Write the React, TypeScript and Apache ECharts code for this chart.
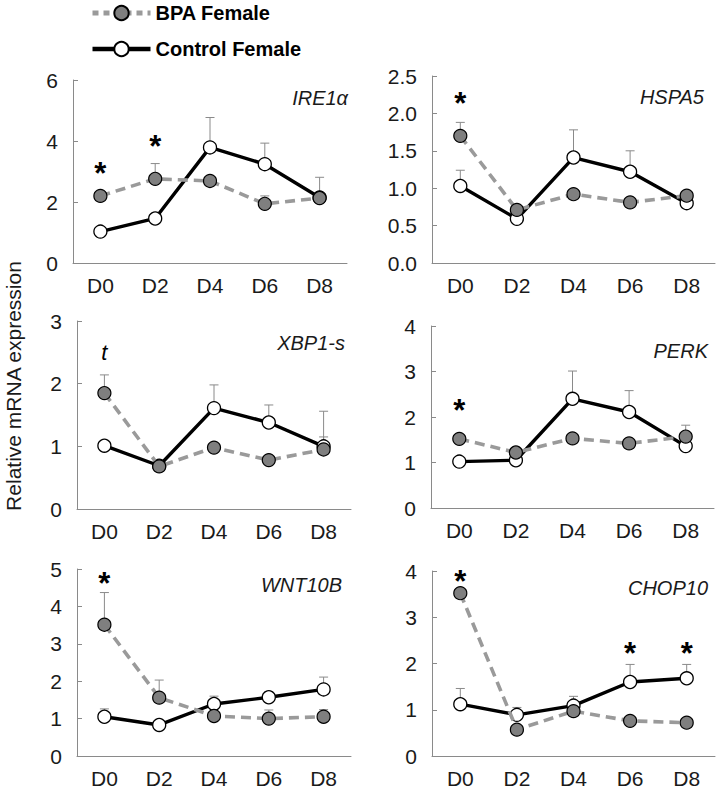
import React, { useEffect, useRef } from "react";
import * as echarts from "echarts";

const days = ["D0", "D2", "D4", "D6", "D8"];
const seriesNames = ["BPA Female", "Control Female"];
const genes = ["IRE1α", "HSPA5", "XBP1-s", "PERK", "WNT10B", "CHOP10"];

// mean values
const ire1Bpa = [2.2, 2.76, 2.69, 1.94, 2.13];
const ire1Ctrl = [1.03, 1.46, 3.79, 3.24, 2.15];
const hspa5Bpa = [1.7, 0.71, 0.92, 0.81, 0.9];
const hspa5Ctrl = [1.03, 0.59, 1.41, 1.22, 0.8];
const xbp1Bpa = [1.85, 0.68, 0.98, 0.78, 0.95];
const xbp1Ctrl = [1.01, 0.69, 1.61, 1.38, 1.0];
const perkBpa = [1.52, 1.22, 1.53, 1.42, 1.57];
const perkCtrl = [1.02, 1.05, 2.4, 2.11, 1.36];
const wntBpa = [3.51, 1.56, 1.07, 1.0, 1.05];
const wntCtrl = [1.05, 0.83, 1.39, 1.57, 1.78];
const chopBpa = [3.52, 0.57, 0.97, 0.76, 0.72];
const chopCtrl = [1.12, 0.89, 1.09, 1.6, 1.68];

// top of error bars (mean + SEM); null = not visible
const ire1BpaTop = [null, 3.26, null, 2.2, null];
const ire1CtrlTop = [null, null, 4.77, 3.93, 2.81];
const hspa5BpaTop = [1.88, null, null, null, null];
const hspa5CtrlTop = [1.24, null, 1.78, 1.5, null];
const xbp1BpaTop = [2.14, null, null, null, 1.15];
const xbp1CtrlTop = [null, null, 1.98, 1.66, 1.56];
const perkBpaTop = [null, null, null, null, 1.82];
const perkCtrlTop = [null, null, 3.01, 2.58, null];
const wntBpaTop = [4.37, 2.03, 1.12, 1.23, 1.24];
const wntCtrlTop = [1.26, null, 1.6, 1.72, 2.11];
const chopBpaTop = [null, null, null, null, null];
const chopCtrlTop = [1.46, 1.05, 1.29, 1.98, 1.98];

// significance marks: [dayIndex, level, text]
const ire1Marks = [[0, 3.16, "*"], [1, 4.04, "*"]];
const hspa5Marks = [[0, 2.22, "*"]];
const xbp1Marks = [[0, 2.5, "t"]];
const perkMarks = [[0, 2.3, "*"]];
const wntMarks = [[0, 4.81, "*"]];
const chopMarks = [[0, 3.93, "*"], [3, 2.37, "*"], [4, 2.37, "*"]];

// y axis ranges
const yMax = [6, 2.5, 3, 4, 5, 4];
const yInterval = [2, 0.5, 1, 1, 1, 1];
const yDecimals = [0, 1, 0, 0, 0, 0];

const bpaData = [ire1Bpa, hspa5Bpa, xbp1Bpa, perkBpa, wntBpa, chopBpa];
const ctrlData = [ire1Ctrl, hspa5Ctrl, xbp1Ctrl, perkCtrl, wntCtrl, chopCtrl];
const bpaTops = [ire1BpaTop, hspa5BpaTop, xbp1BpaTop, perkBpaTop, wntBpaTop, chopBpaTop];
const ctrlTops = [ire1CtrlTop, hspa5CtrlTop, xbp1CtrlTop, perkCtrlTop, wntCtrlTop, chopCtrlTop];
const marks = [ire1Marks, hspa5Marks, xbp1Marks, perkMarks, wntMarks, chopMarks];

// layout
const grids = [
  { left: 73, top: 80, width: 274, height: 183 },
  { left: 432, top: 76, width: 283, height: 187 },
  { left: 77, top: 321, width: 274, height: 188 },
  { left: 431, top: 326, width: 283, height: 182 },
  { left: 77, top: 569, width: 274, height: 188 },
  { left: 432, top: 571, width: 283, height: 187 },
];
const geneLabelPos = [
  [348, 98],
  [704, 97],
  [345, 343],
  [708, 351],
  [342, 585],
  [708, 588],
];

const FONT = "'Liberation Sans', Arial, Helvetica, sans-serif";
const AXIS_COLOR = "#8a8a8a";

function errorSeries(gi: number, means: number[], tops: (number | null)[]) {
  const data: number[][] = [];
  means.forEach((m, i) => {
    const t = tops[i];
    if (t !== null && t !== undefined) data.push([i, m, t]);
  });
  return {
    type: "custom",
    xAxisIndex: gi,
    yAxisIndex: gi,
    z: 2,
    silent: true,
    data,
    encode: { x: 0, y: [1, 2] },
    renderItem: (params: any, api: any) => {
      const x = api.value(0);
      const p0 = api.coord([x, api.value(1)]);
      const p1 = api.coord([x, api.value(2)]);
      return {
        type: "group",
        children: [
          {
            type: "line",
            shape: { x1: p0[0], y1: p0[1], x2: p1[0], y2: p1[1] },
            style: { stroke: AXIS_COLOR, lineWidth: 1 },
          },
          {
            type: "line",
            shape: { x1: p1[0] - 4.5, y1: p1[1], x2: p1[0] + 4.5, y2: p1[1] },
            style: { stroke: AXIS_COLOR, lineWidth: 1 },
          },
        ],
      };
    },
  };
}

function buildOption() {
  const grid: any[] = [];
  const xAxis: any[] = [];
  const yAxis: any[] = [];
  const series: any[] = [];
  const graphic: any[] = [];

  genes.forEach((gene, gi) => {
    grid.push({ ...grids[gi], containLabel: false });
    xAxis.push({
      type: "category",
      gridIndex: gi,
      data: days,
      boundaryGap: true,
      axisLine: { lineStyle: { color: AXIS_COLOR, width: 1 } },
      axisTick: { inside: true, length: 6, interval: 0, lineStyle: { color: AXIS_COLOR } },
      axisLabel: { fontFamily: FONT, fontSize: 21, color: "#1a1a1a", margin: 12, interval: 0 },
      splitLine: { show: false },
    });
    yAxis.push({
      type: "value",
      gridIndex: gi,
      min: 0,
      max: yMax[gi],
      interval: yInterval[gi],
      axisLine: { show: true, lineStyle: { color: AXIS_COLOR, width: 1 } },
      axisTick: { show: true, inside: true, length: 5, lineStyle: { color: AXIS_COLOR } },
      axisLabel: {
        fontFamily: FONT,
        fontSize: 21,
        color: "#1a1a1a",
        margin: 15,
        formatter: (v: number) => v.toFixed(yDecimals[gi]),
      },
      splitLine: { show: false },
    });

    series.push(errorSeries(gi, ctrlData[gi], ctrlTops[gi]));
    series.push(errorSeries(gi, bpaData[gi], bpaTops[gi]));

    series.push({
      type: "line",
      name: seriesNames[1],
      xAxisIndex: gi,
      yAxisIndex: gi,
      z: 3,
      data: ctrlData[gi],
      symbol: "circle",
      symbolSize: 13,
      showAllSymbol: true,
      lineStyle: { color: "#000", width: 3.4, type: "solid" },
      itemStyle: { color: "#ffffff", borderColor: "#000", borderWidth: 1.3 },
      emphasis: { disabled: true },
    });
    series.push({
      type: "line",
      name: seriesNames[0],
      xAxisIndex: gi,
      yAxisIndex: gi,
      z: 4,
      data: bpaData[gi],
      symbol: "circle",
      symbolSize: 13,
      showAllSymbol: true,
      lineStyle: { color: "#9a9a9a", width: 3.6, type: [10, 6] },
      itemStyle: { color: "#7f7f7f", borderColor: "#000", borderWidth: 1.2 },
      emphasis: { disabled: true },
    });

    series.push({
      type: "scatter",
      xAxisIndex: gi,
      yAxisIndex: gi,
      z: 5,
      silent: true,
      symbolSize: 1,
      itemStyle: { color: "rgba(255,255,255,0)" },
      data: marks[gi].map((m: any) => {
        const isT = m[2] === "t";
        return {
          value: [m[0], m[1]],
          name: m[2],
          label: isT
            ? { fontSize: 22, fontStyle: "italic", fontWeight: "normal", offset: [0, 0] }
            : { fontSize: 31, fontWeight: "bold", offset: [0, 7] },
        };
      }),
      label: {
        show: true,
        position: "inside",
        formatter: (p: any) => p.name,
        fontFamily: FONT,
        color: "#000",
        opacity: 1,
        textBorderWidth: 0,
      },
    });

    graphic.push({
      type: "text",
      x: geneLabelPos[gi][0],
      y: geneLabelPos[gi][1],
      style: {
        text: gene,
        font: `italic 20px ${FONT}`,
        fill: "#1a1a1a",
        align: "right",
        verticalAlign: "middle",
      },
    });
  });

  graphic.push({
    type: "text",
    x: 13,
    y: 386,
    rotation: Math.PI / 2,
    style: {
      text: "Relative mRNA expression",
      font: `21px ${FONT}`,
      fill: "#1a1a1a",
      align: "center",
      verticalAlign: "middle",
    },
  });

  return {
    animation: false,
    backgroundColor: "#ffffff",
    legend: {
      data: [
        {
          name: seriesNames[0],
          lineStyle: { color: "#9a9a9a", width: 5, type: [6, 5] },
        },
        {
          name: seriesNames[1],
          lineStyle: { color: "#000", width: 4.5, type: "solid" },
        },
      ],
      orient: "vertical",
      left: 85,
      top: -2,
      itemWidth: 58,
      itemHeight: 18,
      itemGap: 16,
      selectedMode: false,
      textStyle: { fontFamily: FONT, fontSize: 20, fontWeight: "bold", color: "#000" },
    },
    grid,
    xAxis,
    yAxis,
    series,
    graphic,
  };
}

export default function App() {
  const ref = useRef<HTMLDivElement>(null);
  useEffect(() => {
    if (!ref.current) return;
    const chart = echarts.init(ref.current, undefined, { renderer: "svg" });
    chart.setOption(buildOption() as any);
    return () => chart.dispose();
  }, []);
  return (
    <div
      ref={ref}
      style={{ position: "absolute", left: 0, top: 0, width: 716, height: 789, background: "#fff" }}
    />
  );
}
